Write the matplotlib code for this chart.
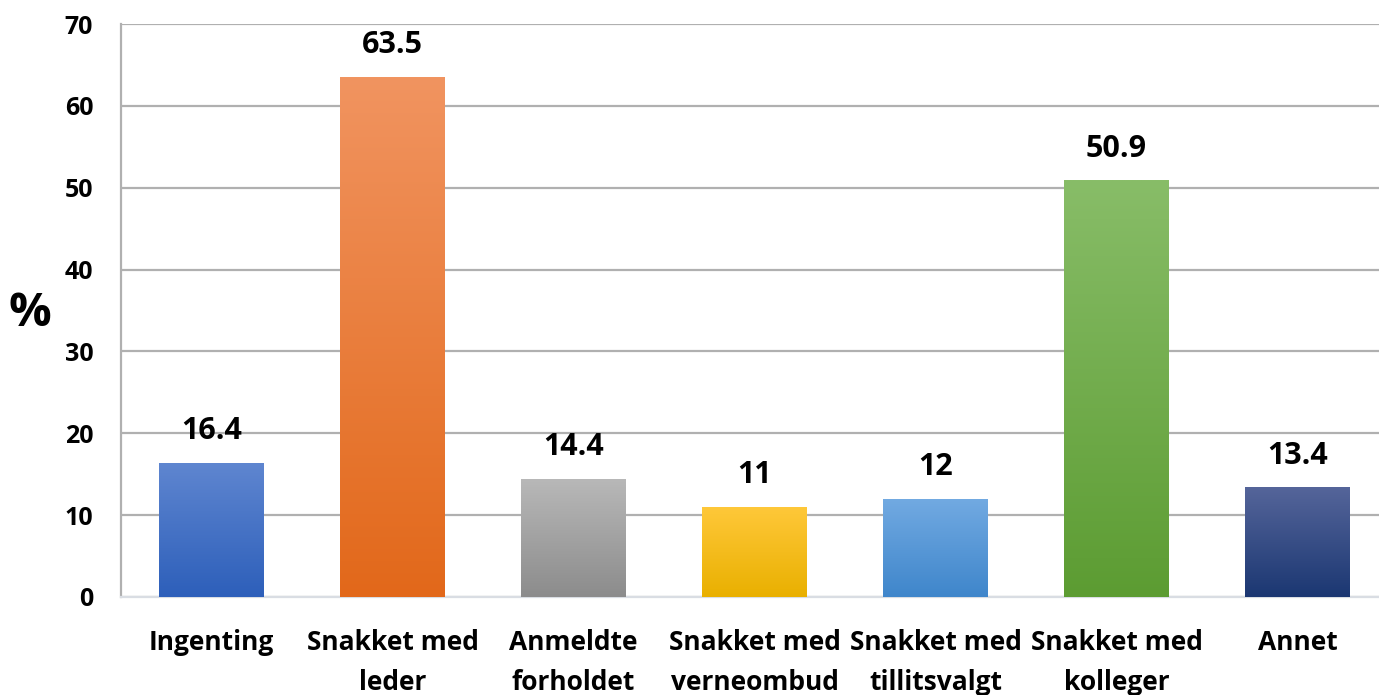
import numpy as np
import matplotlib
matplotlib.use("Agg")
import matplotlib.pyplot as plt
from matplotlib.colors import LinearSegmentedColormap

categories = ["Ingenting", "Snakket med\nleder", "Anmeldte\nforholdet", "Snakket med\nverneombud",
              "Snakket med\ntillitsvalgt", "Snakket med\nkolleger", "Annet"]
values = [16.4, 63.5, 14.4, 11, 12, 50.9, 13.4]
value_labels = ["16.4", "63.5", "14.4", "11", "12", "50.9", "13.4"]
top_colors = ["#5f86d0", "#f19460", "#b8b8b8", "#ffc83a", "#72aae2", "#88bd68", "#55659a"]
bottom_colors = ["#2d5fba", "#e2681a", "#8c8c8c", "#e9b000", "#3f86cb", "#5c9c32", "#1b3772"]

plt.rcParams['font.family'] = ['Open Sans', 'DejaVu Sans']
plt.rcParams['font.weight'] = 'bold'

fig = plt.figure(figsize=(13.79, 6.95), dpi=100)
ax = fig.add_axes([121 / 1379, 98 / 695, 1258 / 1379, 573 / 695])

x = np.arange(len(categories))
width = 0.58
bars = ax.bar(x, values, width=width, color="none", zorder=3)

# vertical gradient inside each bar
grad = np.linspace(0, 1, 256).reshape(-1, 1)
for i, b in enumerate(bars):
    cmap = LinearSegmentedColormap.from_list("g%d" % i, [bottom_colors[i], top_colors[i]])
    x0, y0 = b.get_x(), b.get_y()
    im = ax.imshow(grad, cmap=cmap, origin="lower", aspect="auto",
                   extent=[x0, x0 + b.get_width(), y0, y0 + b.get_height()], zorder=3)
    im.set_clip_path(b)
    ax.text(x[i], values[i] + 2.9, value_labels[i], ha="center", va="baseline",
            fontsize=22, fontweight="bold", zorder=4)

ax.set_xlim(-0.5, 6.45)
ax.set_ylim(0, 70)
ax.set_yticks(range(0, 71, 10))
ax.set_xticks(x)
ax.set_xticklabels(categories, fontsize=19, fontweight="bold", linespacing=1.62)
ax.tick_params(axis="y", labelsize=18, length=0, pad=20)
ax.tick_params(axis="x", length=0, pad=23)
for lab in ax.get_yticklabels():
    lab.set_fontweight("bold")

ax.grid(axis="y", color="#b0b0b0", linewidth=1.6, zorder=0)
ax.set_axisbelow(True)
ax.spines["top"].set_visible(False)
ax.spines["right"].set_visible(False)
ax.spines["left"].set_color("#b0b0b0")
ax.spines["left"].set_linewidth(1.6)
ax.spines["bottom"].set_color("#d9dde3")
ax.spines["bottom"].set_linewidth(1.6)

fig.text(30 / 1379, 1 - 313 / 695, "%", fontsize=34, fontweight="bold", ha="center", va="center")

fig.savefig("out.png", dpi=100)
